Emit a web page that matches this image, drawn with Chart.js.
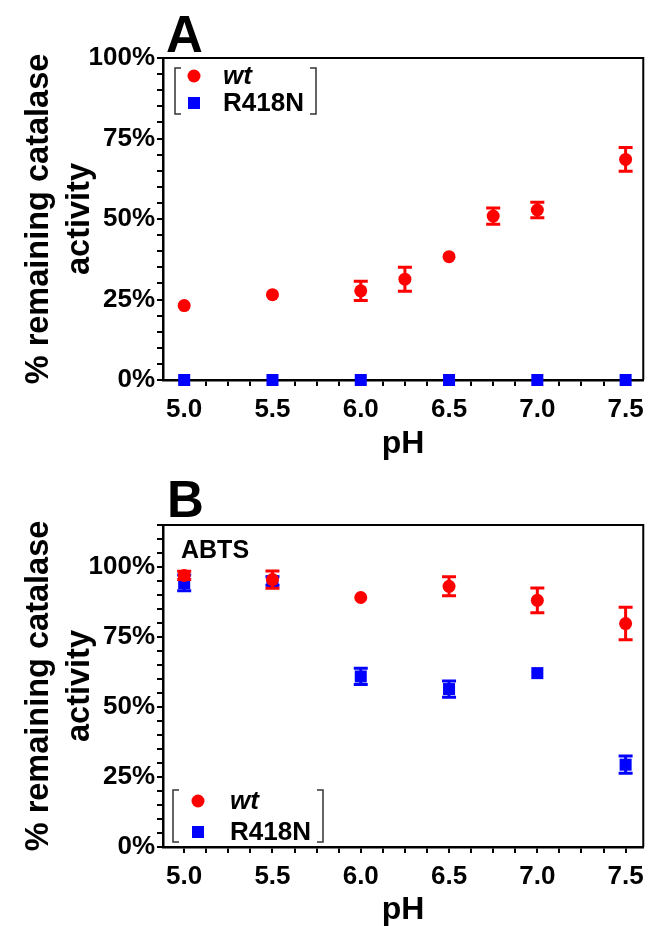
<!DOCTYPE html>
<html>
<head>
<meta charset="utf-8">
<script src="https://cdn.jsdelivr.net/npm/chart.js@4.4.0/dist/chart.umd.min.js"></script>
<style>
  html, body { margin: 0; padding: 0; background: #fff; }
  #wrap { position: relative; width: 652px; height: 926px; }
  canvas { position: absolute; left: 0; }
  #chartA { top: 0; }
  #chartB { top: 463px; }
</style>
</head>
<body>
<div id="wrap">
  <canvas id="chartA" width="652" height="463"></canvas>
  <canvas id="chartB" width="652" height="463"></canvas>
</div>
<script>
// series names
const seriesNames = ['wt', 'R418N'];

// panel A
const pHA_wt = [5.0, 5.5, 6.0, 6.25, 6.5, 6.75, 7.0, 7.5];
const wtA = [23.1, 26.5, 27.7, 31.3, 38.3, 50.9, 52.8, 68.5];
const wtA_err = [0, 0, 3.0, 3.7, 0, 2.5, 2.4, 3.7];
const pHA_mut = [5.0, 5.5, 6.0, 6.5, 7.0, 7.5];
const mutA = [0, 0, 0, 0, 0, 0];
const mutA_err = [0, 0, 0, 0, 0, 0];

// panel B (ABTS)
const pHB = [5.0, 5.5, 6.0, 6.5, 7.0, 7.5];
const wtB = [97.0, 95.5, 89.1, 93.1, 88.1, 79.8];
const wtB_err = [1.5, 3.1, 0, 3.4, 4.4, 5.8];
const mutB = [94.3, 95.0, 60.9, 56.4, 62.1, 29.4];
const mutB_err = [2.8, 1.5, 2.9, 2.9, 0, 3.1];

// tick labels
const xTickLabels = ['5.0', '5.5', '6.0', '6.5', '7.0', '7.5'];
const yTickLabels = ['0%', '25%', '50%', '75%', '100%'];

const FONT = "'Liberation Sans', Arial, Helvetica, sans-serif";
const RED = '#ff0000';
const BLUE = '#0000ff';

function toPoints(xs, ys) {
    return xs.map((x, i) => ({ x: x, y: ys[i] }));
}

const errorBars = {
    id: 'errorBars',
    afterDatasetDraw(chart, args) {
        const ds = chart.data.datasets[args.index];
        if (!ds.errors) return;
        const xs = chart.scales.x, ys = chart.scales.y, ctx = chart.ctx;
        ctx.save();
        ctx.strokeStyle = ds.borderColor;
        ctx.lineWidth = 3;
        ds.data.forEach((p, i) => {
            const e = ds.errors[i];
            if (!e) return;
            const px = xs.getPixelForValue(p.x);
            const top = ys.getPixelForValue(p.y + e);
            const bot = ys.getPixelForValue(p.y - e);
            ctx.beginPath();
            ctx.moveTo(px, top); ctx.lineTo(px, bot);
            ctx.moveTo(px - 7, top); ctx.lineTo(px + 7, top);
            ctx.moveTo(px - 7, bot); ctx.lineTo(px + 7, bot);
            ctx.stroke();
        });
        ctx.restore();
    }
};

// top and right edges of the plot box
const frame = {
    id: 'frame',
    beforeDatasetsDraw(chart) {
        const a = chart.chartArea, ctx = chart.ctx;
        ctx.save();
        ctx.strokeStyle = '#000';
        ctx.lineWidth = 2;
        ctx.beginPath();
        ctx.moveTo(a.left, a.top);
        ctx.lineTo(a.right, a.top);
        ctx.lineTo(a.right, a.bottom);
        ctx.stroke();
        ctx.restore();
    }
};

const decor = {
    id: 'decor',
    afterDraw(chart, args, opts) {
        const ctx = chart.ctx;
        ctx.save();
        ctx.fillStyle = '#000';
        ctx.textBaseline = 'alphabetic';
        ctx.textAlign = 'left';
        ctx.font = 'bold 51px ' + FONT;
        ctx.fillText(opts.letter, opts.letterX, opts.letterY);
        if (opts.note) {
            ctx.font = 'bold 25px ' + FONT;
            ctx.fillText(opts.note, opts.noteX, opts.noteY);
        }
        const lg = opts.legend;
        ctx.strokeStyle = '#333';
        ctx.lineWidth = 1.5;
        ctx.beginPath();
        ctx.moveTo(lg.x + 6, lg.y); ctx.lineTo(lg.x, lg.y);
        ctx.lineTo(lg.x, lg.y + lg.h); ctx.lineTo(lg.x + 6, lg.y + lg.h);
        ctx.moveTo(lg.x + lg.w - 6, lg.y); ctx.lineTo(lg.x + lg.w, lg.y);
        ctx.lineTo(lg.x + lg.w, lg.y + lg.h); ctx.lineTo(lg.x + lg.w - 6, lg.y + lg.h);
        ctx.stroke();
        ctx.textBaseline = 'middle';
        chart.data.datasets.forEach((ds, i) => {
            const cy = lg.rowY[i];
            ctx.fillStyle = ds.backgroundColor;
            ctx.beginPath();
            if (ds.pointStyle === 'rect') {
                ctx.rect(lg.markerX - 6, cy - 6, 12, 12);
            } else {
                ctx.arc(lg.markerX, cy, 6.5, 0, Math.PI * 2);
            }
            ctx.fill();
            ctx.fillStyle = '#000';
            ctx.font = (i === 0 ? 'italic ' : '') + 'bold 26px ' + FONT;
            ctx.fillText(ds.label, lg.textX, cy + 1);
        });
        ctx.restore();
    }
};

function makeChart(id, datasets, yMax, pad, xHeight, xTitlePad, decorOpts) {
    return new Chart(document.getElementById(id), {
        type: 'scatter',
        data: { datasets: datasets },
        plugins: [frame, errorBars, decor],
        options: {
            responsive: false,
            animation: false,
            events: [],
            layout: { padding: pad },
            plugins: {
                legend: { display: false },
                tooltip: { enabled: false },
                decor: decorOpts
            },
            scales: {
                x: {
                    type: 'linear',
                    min: 4.88,
                    max: 7.6,
                    afterBuildTicks: s => {
                        const t = [];
                        for (let k = 0; k <= 20; k++) t.push({ value: 5 + k * 0.125 });
                        s.ticks = t;
                    },
                    afterFit: s => { s.height = xHeight; },
                    ticks: {
                        autoSkip: false,
                        maxRotation: 0,
                        padding: 8,
                        color: '#000',
                        font: { family: FONT, size: 26, weight: 'bold' },
                        callback: v => {
                            const lbl = v.toFixed(1);
                            return (Math.abs(v * 2 - Math.round(v * 2)) < 1e-6 && xTickLabels.includes(lbl)) ? lbl : '';
                        }
                    },
                    grid: { drawOnChartArea: false, drawTicks: true, tickLength: 6, color: '#000', lineWidth: 2 },
                    border: { display: true, color: '#000', width: 2.5 },
                    title: {
                        display: true,
                        text: 'pH',
                        color: '#000',
                        font: { family: FONT, size: 32, weight: 'bold' },
                        padding: { top: 0, bottom: xTitlePad }
                    }
                },
                y: {
                    min: 0,
                    max: yMax,
                    afterBuildTicks: s => {
                        const t = [];
                        for (let v = 0; v <= yMax; v += 5) t.push({ value: v });
                        s.ticks = t;
                    },
                    afterFit: s => { s.width = 163; },
                    ticks: {
                        autoSkip: false,
                        padding: 2,
                        color: '#000',
                        font: { family: FONT, size: 26, weight: 'bold' },
                        callback: v => {
                            const lbl = v + '%';
                            return (v % 25 === 0 && yTickLabels.includes(lbl)) ? lbl : '';
                        }
                    },
                    grid: { drawOnChartArea: false, drawTicks: true, tickLength: 6, color: '#000', lineWidth: 2 },
                    border: { display: true, color: '#000', width: 2.5 },
                    title: {
                        display: true,
                        text: ['% remaining catalase', 'activity'],
                        color: '#000',
                        font: { family: FONT, size: 32.5, weight: 'bold', lineHeight: 1.26 },
                        padding: { top: 19, bottom: 0 }
                    }
                }
            }
        }
    });
}

function seriesSets(xw, yw, ew, xm, ym, em) {
    return [
        {
            label: seriesNames[0],
            data: toPoints(xw, yw),
            errors: ew,
            pointStyle: 'circle',
            pointRadius: 6.5,
            backgroundColor: RED,
            borderColor: RED,
            borderWidth: 0,
            clip: false
        },
        {
            label: seriesNames[1],
            data: toPoints(xm, ym),
            errors: em,
            pointStyle: 'rect',
            pointRadius: 8.5,
            backgroundColor: BLUE,
            borderColor: BLUE,
            borderWidth: 0,
            clip: false
        }
    ];
}

makeChart('chartA',
    seriesSets(pHA_wt, wtA, wtA_err, pHA_mut, mutA, mutA_err),
    100, { top: 58, right: 3, left: 0, bottom: 0 }, 83, 0,
    {
        letter: 'A', letterX: 166, letterY: 52,
        legend: { x: 175, y: 68, w: 141, h: 46, markerX: 194, textX: 223, rowY: [76, 103] }
    });

makeChart('chartB',
    seriesSets(pHB, wtB, wtB_err, pHB, mutB, mutB_err),
    115, { top: 62, right: 4, left: 0, bottom: 0 }, 79, -3,
    {
        letter: 'B', letterX: 167, letterY: 54,
        note: 'ABTS', noteX: 181, noteY: 95,
        legend: { x: 173, y: 327, w: 150, h: 52, markerX: 198, textX: 230, rowY: [338, 369] }
    });
</script>
</body>
</html>
